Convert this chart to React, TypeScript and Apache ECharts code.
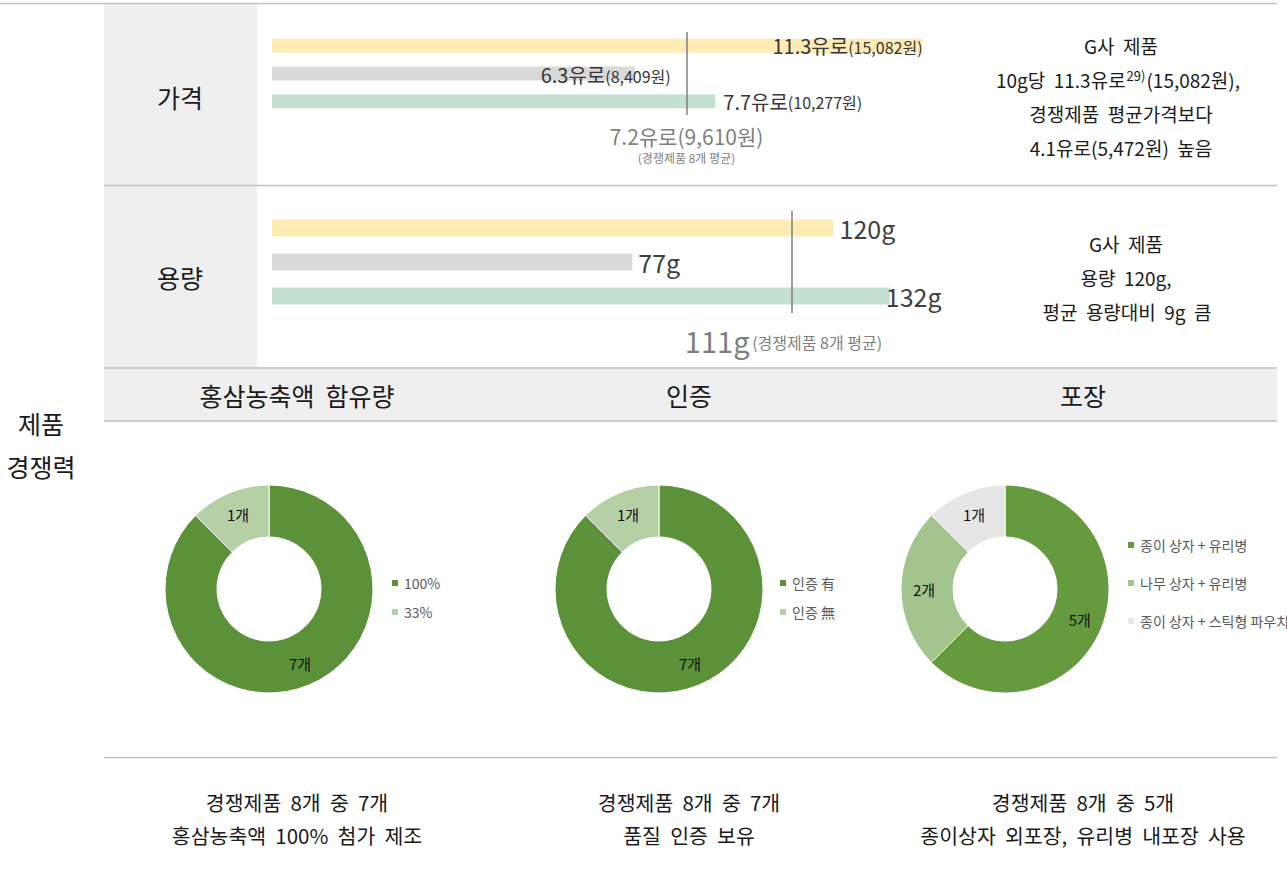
import React, { useEffect, useRef } from 'react';
import * as echarts from 'echarts';

const barCategories = ['G사 제품', '경쟁제품 A', '경쟁제품 B'];
const barColors = ['#FFEBB4', '#D9D9D9', '#C4E0D2'];
const priceEuro = [11.3, 6.3, 7.7];
const priceWon = [15082, 8409, 10277];
const priceAvgEuro = 7.2;
const priceAvgWon = 9610;
const capacityG = [120, 77, 132];
const capacityAvg = 111;
const competitorCount = 8;

const ginsengNames = ['100%', '33%'];
const ginsengCounts = [7, 1];
const certNames = ['인증 有', '인증 無'];
const certCounts = [7, 1];
const packNames = ['종이 상자 + 유리병', '나무 상자 + 유리병', '종이 상자 + 스틱형 파우치'];
const packCounts = [5, 2, 1];

const FONT = '"Noto Sans CJK KR", "Noto Sans", sans-serif';
const LINE = '#C0C0C0';
const CELL = '#EFEFEF';

const fmt = (n: number) => n.toLocaleString('en-US');

const priceLabelLayout = [
  { position: 'insideRight', distance: 0, offset: [0, 0] },
  { position: 'right', distance: 0, offset: [-94, 1] },
  { position: 'right', distance: 8, offset: [0, 0] },
];
const capLabelLayout = [
  { position: 'right', distance: 6 },
  { position: 'right', distance: 6 },
  { position: 'right', distance: -4 },
];

function txt(id: string, text: string, x: number, y: number, size: number, fill = '#1a1a1a', extra: any = {}) {
  return {
    type: 'text',
    id,
    x,
    y,
    z: 10,
    style: { text, fontSize: size, fontFamily: FONT, fill, align: 'center', verticalAlign: 'middle', ...extra },
  };
}

function hline(id: string, x1: number, x2: number, y: number) {
  return { type: 'line', id, z: 1, shape: { x1, y1: y, x2, y2: y }, style: { stroke: LINE, lineWidth: 1.5 } };
}

export default function App() {
  const ref = useRef<HTMLDivElement>(null);
  useEffect(() => {
    if (!ref.current) return;
    const chart = echarts.init(ref.current, null, { renderer: 'svg' });

    const pieCommon = {
      type: 'pie',
      radius: [52, 104],
      startAngle: 90,
      clockwise: true,
      avoidLabelOverlap: false,
      itemStyle: { borderColor: '#fff', borderWidth: 1 },
      label: {
        show: true,
        position: 'inside',
        formatter: '{c}개',
        color: '#111',
        fontSize: 15,
        fontFamily: FONT,
      },
      labelLine: { show: false },
      emphasis: { disabled: true },
    };

    const legendCommon = {
      orient: 'vertical',
      icon: 'rect',
      itemWidth: 8,
      itemHeight: 8,
      itemGap: 13,
      selectedMode: false,
      textStyle: { fontSize: 14, color: '#595959', fontFamily: FONT, lineHeight: 16 },
    };

    const option: any = {
      animation: false,
      textStyle: { fontFamily: FONT },
      grid: [
        { left: 272, top: 32, width: 806, height: 83 },
        { left: 272, top: 211, width: 702, height: 102 },
      ],
      xAxis: [
        { type: 'value', gridIndex: 0, min: 0, max: 14, show: false },
        { type: 'value', gridIndex: 1, min: 0, max: 150, show: false },
      ],
      yAxis: [
        { type: 'category', gridIndex: 0, data: barCategories, inverse: true, show: false },
        { type: 'category', gridIndex: 1, data: barCategories, inverse: true, show: false },
      ],
      legend: [
        { ...legendCommon, left: 385, top: 570, data: ginsengNames },
        { ...legendCommon, left: 773, top: 570, data: certNames },
        { ...legendCommon, left: 1121, top: 532, data: packNames, itemGap: 22 },
      ],
      series: [
        {
          type: 'bar',
          xAxisIndex: 0,
          yAxisIndex: 0,
          barWidth: 14,
          silent: true,
          data: priceEuro.map((v, i) => ({
            value: v,
            itemStyle: { color: barColors[i] },
            label: { show: true, ...priceLabelLayout[i] },
          })),
          label: {
            show: true,
            formatter: (p: any) => `{a|${p.value}유로}{b|(${fmt(priceWon[p.dataIndex])}원)}`,
            rich: {
              a: { fontSize: 20, color: '#363636', fontFamily: FONT },
              b: { fontSize: 16, color: '#363636', fontFamily: FONT, padding: [2, 0, 0, 0] },
            },
          },
          markLine: {
            silent: true,
            symbol: 'none',
            label: { show: false },
            lineStyle: { color: '#7f7f7f', width: 1.5, type: 'solid' },
            data: [{ xAxis: priceAvgEuro }],
          },
        },
        {
          type: 'bar',
          xAxisIndex: 1,
          yAxisIndex: 1,
          barWidth: 17,
          silent: true,
          data: capacityG.map((v, i) => ({
            value: v,
            itemStyle: { color: barColors[i] },
            label: { show: true, ...capLabelLayout[i] },
          })),
          label: {
            show: true,
            formatter: '{c}g',
            fontSize: 25,
            color: '#404040',
            fontFamily: FONT,
          },
          markLine: {
            silent: true,
            symbol: 'none',
            label: { show: false },
            lineStyle: { color: '#7f7f7f', width: 1.5, type: 'solid' },
            data: [{ xAxis: capacityAvg }],
          },
        },
        {
          ...pieCommon,
          center: [269, 589],
          data: ginsengNames.map((n, i) => ({
            name: n,
            value: ginsengCounts[i],
            itemStyle: { color: ['#5B9139', '#B5D0A5'][i] },
          })),
        },
        {
          ...pieCommon,
          center: [659, 589],
          data: certNames.map((n, i) => ({
            name: n,
            value: certCounts[i],
            itemStyle: { color: ['#5B9139', '#B5D0A5'][i] },
          })),
        },
        {
          ...pieCommon,
          center: [1005, 589],
          data: packNames.map((n, i) => ({
            name: n,
            value: packCounts[i],
            itemStyle: { color: ['#659A3F', '#A3C48D', '#E6E6E6'][i] },
          })),
        },
      ],
    };

    chart.setOption(option);

    const pxPrice = chart.convertToPixel({ xAxisIndex: 0 }, priceAvgEuro) as number;
    const pxCap = chart.convertToPixel({ xAxisIndex: 1 }, capacityAvg) as number;

    const diffEuro = (priceEuro[0] - priceAvgEuro).toFixed(1);
    const diffWon = fmt(priceWon[0] - priceAvgWon);
    const diffCap = capacityG[0] - capacityAvg;

    const graphic: any[] = [
      { type: 'rect', id: 'cellA', z: 0, shape: { x: 104, y: 4, width: 153, height: 364 }, style: { fill: CELL } },
      { type: 'rect', id: 'head', z: 0, shape: { x: 104, y: 368, width: 1173, height: 53 }, style: { fill: CELL } },
      hline('l0', 0, 1277, 3.5),
      hline('l1', 104, 1277, 185.5),
      hline('l2', 104, 1277, 368),
      hline('l3', 104, 1277, 421),
      hline('l4', 104, 1277, 757.5),
      txt('t1', '가격', 180, 97, 25),
      txt('t2', '용량', 180, 277, 25),
      txt('t3', '제품', 41, 423, 25),
      txt('t4', '경쟁력', 41, 466, 25),
      txt('h1', '홍삼농축액  함유량', 297, 395, 25),
      txt('h2', '인증', 689, 395, 25),
      txt('h3', '포장', 1083, 395, 25),
      txt('r1', 'G사  제품', 1121, 45, 19),
      {
        type: 'text',
        id: 'r2',
        x: 1118,
        y: 79,
        z: 10,
        style: {
          text: `{a|10g당  ${priceEuro[0]}유로}{s|29)}{a|(${fmt(priceWon[0])}원),}`,
          align: 'center',
          verticalAlign: 'middle',
          fontFamily: FONT,
          rich: {
            a: { fontSize: 19, fill: '#1a1a1a', fontFamily: FONT },
            s: { fontSize: 13, fill: '#1a1a1a', fontFamily: FONT, padding: [0, 1, 8, 1] },
          },
        },
      },
      txt('r3', '경쟁제품  평균가격보다', 1121, 113, 19),
      txt('r4', `${diffEuro}유로(${diffWon}원)  높음`, 1121, 147, 19),
      txt('r5', 'G사  제품', 1126, 243, 19),
      txt('r6', `용량  ${capacityG[0]}g,`, 1126, 277, 19),
      txt('r7', `평균  용량대비  ${diffCap}g  큼`, 1127, 311, 19),
      txt('a1', `${priceAvgEuro}유로(${fmt(priceAvgWon)}원)`, pxPrice, 136, 21, '#7f7f7f'),
      txt('a2', `(경쟁제품 ${competitorCount}개 평균)`, pxPrice, 157, 12, '#7f7f7f'),
      {
        type: 'text',
        id: 'a3',
        x: pxCap - 8,
        y: 340,
        z: 10,
        style: {
          text: `{a|${capacityAvg}g} {b|(경쟁제품 ${competitorCount}개 평균)}`,
          align: 'center',
          verticalAlign: 'middle',
          fontFamily: FONT,
          rich: {
            a: { fontSize: 29, fill: '#7f7f7f', fontFamily: FONT },
            b: { fontSize: 16, fill: '#7f7f7f', fontFamily: FONT, padding: [4, 0, 0, 0] },
          },
        },
      },
      txt('b1', `경쟁제품  ${competitorCount}개  중  ${ginsengCounts[0]}개`, 297, 802, 20.5),
      txt('b2', '홍삼농축액  100%  첨가  제조', 297, 835, 20.5),
      txt('b3', `경쟁제품  ${competitorCount}개  중  ${certCounts[0]}개`, 689, 802, 20.5),
      txt('b4', '품질  인증  보유', 689, 835, 20.5),
      txt('b5', `경쟁제품  ${competitorCount}개  중  ${packCounts[0]}개`, 1083, 802, 20.5),
      txt('b6', '종이상자  외포장,  유리병  내포장  사용', 1083, 835, 20.5),
    ];

    chart.setOption({ graphic });

    return () => chart.dispose();
  }, []);

  return (
    <div
      ref={ref}
      style={{ position: 'fixed', left: 0, top: 0, width: 1287, height: 872, background: '#fff' }}
    />
  );
}
